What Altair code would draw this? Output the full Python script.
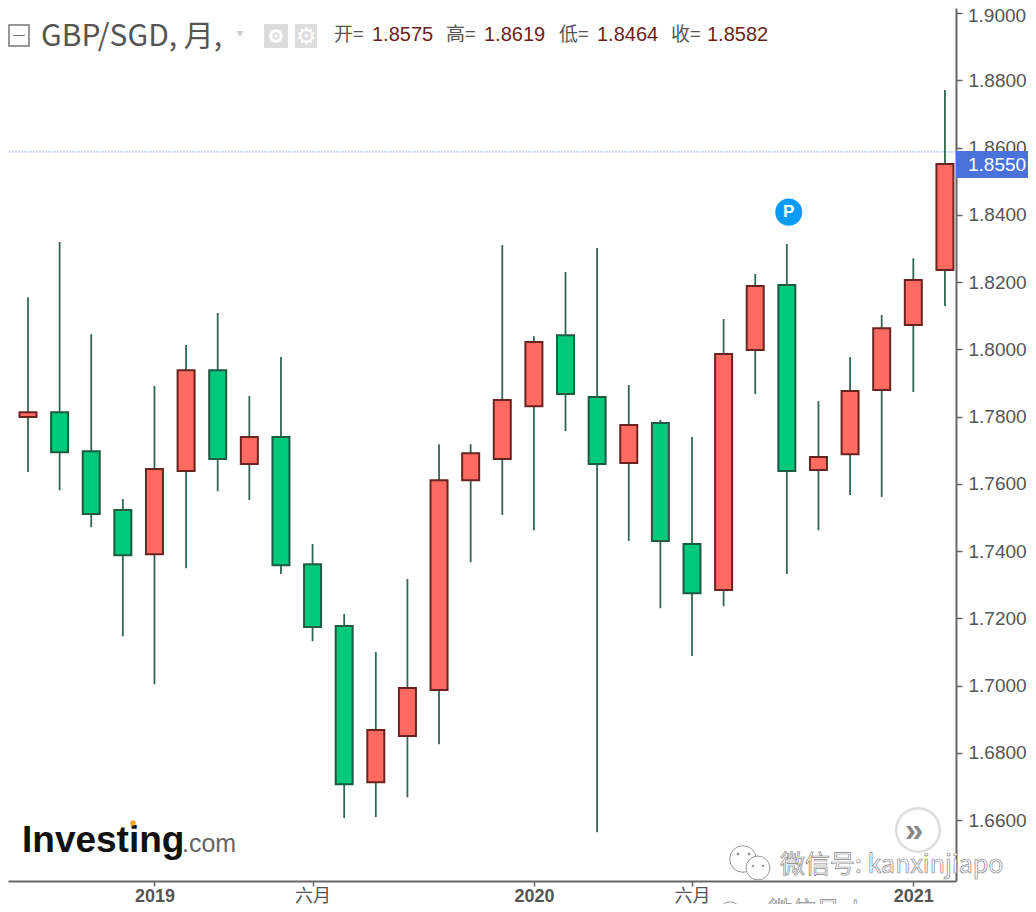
"""GBP/SGD monthly candlestick chart, Investing.com look."""

import pandas as pd
import altair as alt

# months, first one is only half on screen in the reference
months = ['2018-08', '2018-09', '2018-10', '2018-11', '2018-12',
          '2019-01', '2019-02', '2019-03', '2019-04', '2019-05', '2019-06',
          '2019-07', '2019-08', '2019-09', '2019-10', '2019-11', '2019-12',
          '2020-01', '2020-02', '2020-03', '2020-04', '2020-05', '2020-06',
          '2020-07', '2020-08', '2020-09', '2020-10', '2020-11', '2020-12',
          '2021-01', '2021-02']
opens = [1.7876, 1.7799, 1.7813, 1.7697, 1.7522, 1.7391, 1.7638, 1.7938, 1.7659, 1.7739, 1.7361,
         1.7177, 1.6713, 1.6850, 1.6987, 1.7611, 1.7674, 1.7831, 1.8042, 1.7858, 1.7662,
         1.7781, 1.7421, 1.7284, 1.7998, 1.8191, 1.7641, 1.7688, 1.7879, 1.8072, 1.8236]
closes = [1.7790, 1.7813, 1.7694, 1.7510, 1.7388, 1.7644, 1.7938, 1.7674, 1.7739, 1.7358, 1.7174,
          1.6707, 1.6868, 1.6993, 1.7611, 1.7691, 1.7849, 1.8022, 1.7867, 1.7659, 1.7775,
          1.7430, 1.7275, 1.7986, 1.8188, 1.7638, 1.7680, 1.7876, 1.8063, 1.8206, 1.8551]
highs = [1.7876, 1.8155, 1.8319, 1.8045, 1.7555, 1.7891, 1.8013, 1.8108, 1.7861, 1.7977, 1.7421,
         1.7213, 1.7100, 1.7317, 1.7718, 1.7718, 1.8310, 1.8039, 1.8230, 1.8301, 1.7894,
         1.7790, 1.7739, 1.8090, 1.8224, 1.8313, 1.7846, 1.7977, 1.8102, 1.8271, 1.8771]
lows = [1.7790, 1.7635, 1.7581, 1.7471, 1.7147, 1.7004, 1.7349, 1.7578, 1.7552, 1.7332, 1.7132,
        1.6606, 1.6609, 1.6668, 1.6826, 1.7367, 1.7507, 1.7462, 1.7757, 1.6564, 1.7430,
        1.7230, 1.7088, 1.7236, 1.7867, 1.7332, 1.7462, 1.7567, 1.7561, 1.7873, 1.8129]

y_ticks = [1.66, 1.68, 1.70, 1.72, 1.74, 1.76, 1.78, 1.80, 1.82, 1.84, 1.86, 1.88, 1.90]
x_ticks = {5: '2019', 10: '六月', 17: '2020', 22: '六月', 29: '2021'}
last_price = 1.8587
tag_price = '1.8550'
pivot_month = 25.06
pivot_level = 1.8408

TEXT_GRAY = '#555555'
AXIS_GRAY = '#666666'
PRICE_RED = '#6b1f1c'
CJK = 'Noto Sans CJK SC'
SANS = 'Liberation Sans'

df = pd.DataFrame({'month': months, 'open': opens, 'close': closes, 'high': highs, 'low': lows})
df['idx'] = range(len(df))
df['up'] = df['close'] >= df['open']

x_scale = alt.Scale(domain=[0.3675, 30.35], nice=False, zero=False, padding=0)
y_scale = alt.Scale(domain=[1.6419, 1.9015], nice=False, zero=False, padding=0)

tick_expr = ' : '.join(f"datum.value == {k} ? '{v}'" for k, v in x_ticks.items()) + " : ''"
year_test = 'datum.value == 5 || datum.value == 17 || datum.value == 29'


def text(label, x, y, **style):
    """One piece of text placed in plot pixels."""
    return alt.Chart(pd.DataFrame({'t': [label]})).mark_text(align='left', baseline='alphabetic', **style).encode(
        x=alt.value(x), y=alt.value(y), text='t:N'
    )


def box(x, x2, y, y2, **style):
    return alt.Chart(pd.DataFrame({'a': [0]})).mark_rect(**style).encode(
        x=alt.value(x), x2=alt.value(x2), y=alt.value(y), y2=alt.value(y2)
    )


def dot(x, y, size, shape='circle', **style):
    return alt.Chart(pd.DataFrame({'a': [0]})).mark_point(shape=shape, size=size, opacity=1, **style).encode(
        x=alt.value(x), y=alt.value(y)
    )


base = alt.Chart(df).encode(
    x=alt.X('idx:Q', scale=x_scale, axis=alt.Axis(
        title=None, grid=False, values=list(x_ticks), labelExpr=tick_expr,
        labelFont=f'{SANS}, {CJK}', labelFontSize=18, labelColor=TEXT_GRAY, labelPadding=1,
        labelFontWeight={'condition': {'test': year_test, 'value': 'bold'}, 'value': 'normal'},
        domainColor=AXIS_GRAY, domainWidth=2, tickColor=AXIS_GRAY, tickSize=5, tickWidth=1.5,
    ))
)

wicks = base.mark_rule(color='#33664f', strokeWidth=1.8, clip=True).encode(
    y=alt.Y('low:Q', scale=y_scale, axis=alt.Axis(
        title=None, grid=False, orient='right', values=y_ticks, format='.4f',
        labelExpr="datum.value >= 1.9 ? '' : datum.label",
        labelFont=SANS, labelFontSize=19, labelColor=TEXT_GRAY, labelPadding=6,
        domainColor=AXIS_GRAY, domainWidth=2, tickColor=AXIS_GRAY, tickSize=6, tickWidth=1.5,
    )),
    y2='high:Q',
)

bodies = base.mark_bar(size=17, strokeWidth=2, clip=True).encode(
    y=alt.Y('open:Q', scale=y_scale),
    y2='close:Q',
    fill=alt.condition('datum.up', alt.value('#ff6b61'), alt.value('#00c97b')),
    stroke=alt.condition('datum.up', alt.value('#6a2420'), alt.value('#1d5b43')),
)

price_line = alt.Chart(pd.DataFrame({'p': [last_price]})).mark_rule(
    color='#9db4f0', strokeWidth=1, strokeDash=[2, 1]
).encode(y=alt.Y('p:Q', scale=y_scale))

pivot = alt.Chart(pd.DataFrame({'i': [pivot_month], 'v': [pivot_level]})).mark_point(
    shape='circle', size=730, filled=True, color='#0a9bf5', opacity=1
).encode(x=alt.X('i:Q', scale=x_scale), y=alt.Y('v:Q', scale=y_scale))
pivot_text = alt.Chart(pd.DataFrame({'i': [pivot_month], 'v': [pivot_level], 't': ['P']})).mark_text(
    font=SANS, fontSize=17, fontWeight='bold', color='white'
).encode(x=alt.X('i:Q', scale=x_scale), y=alt.Y('v:Q', scale=y_scale), text='t:N')

# header row
header = [
    box(1, 21, 17, 38, fill='white', stroke='#777777', strokeWidth=1.5),
    box(5, 17, 27, 28, fill='#777777'),
    text('GBP/SGD, 月,', 33, 38, font=CJK, fontSize=30, color=TEXT_GRAY),
    dot(232, 26, 50, shape='triangle-down', fill='#cccccc', filled=True),
    box(256, 280, 16, 40, fill='#dddddd'),
    dot(268, 28, 110, stroke='white', strokeWidth=3, filled=False),
    dot(268, 28, 14, fill='white', filled=True),
    box(287, 309, 16, 40, fill='#dddddd'),
    text('⚙', 288, 36, font='DejaVu Sans', fontSize=23, color='white'),
]
for label, x_lab, value, x_val in [('开=', 326, '1.8575', 364), ('高=', 438, '1.8619', 476),
                                   ('低=', 551, '1.8464', 589), ('收=', 663, '1.8582', 699)]:
    header.append(text(label, x_lab, 33, font=CJK, fontSize=19, color=TEXT_GRAY))
    header.append(text(value, x_val, 33, font=SANS, fontSize=20, color=PRICE_RED))

# 1.9000 sits too close to the page edge for the axis to draw it whole
top_label = text('1.9000', 960, 14, font=SANS, fontSize=19, color=TEXT_GRAY)

# price tag on the axis
tag = [
    box(948, 1020, 143, 170, fill='#4a72dd'),
    text(tag_price, 960, 163, font=SANS, fontSize=19, color='white'),
]

# logo and scroll button
logo = [
    text('Investing', 14, 844, font=SANS, fontSize=37, fontWeight='bold', color='#111111'),
    text('.com', 174, 844, font=SANS, fontSize=25, color='#666666'),
    dot(125, 815, 30, fill='#f5a623', filled=True),
    dot(910, 822, 1900, fill='white', stroke='#dddddd', strokeWidth=2.5, filled=True),
    text('»', 897, 833, font=SANS, fontSize=33, fontWeight='bold', color='#888888'),
]

# wechat watermark
watermark = [
    dot(735, 851, 707, fill='white', stroke='#999999', strokeWidth=1, filled=True),
    dot(750, 860, 570, fill='white', stroke='#999999', strokeWidth=1, filled=True),
    dot(730, 846, 8, fill='#999999', filled=True),
    dot(741, 846, 8, fill='#999999', filled=True),
    dot(745, 858, 6, fill='#999999', filled=True),
    dot(755, 858, 6, fill='#999999', filled=True),
    text('微信号: kanxinjiapo', 772, 865, font=CJK, fontSize=25, fill='white', stroke='#888888', strokeWidth=0.7),
    dot(722, 905, 500, fill='white', stroke='#999999', strokeWidth=1, filled=True),
    text('微信号: k', 760, 911, font=CJK, fontSize=24, fill='white', stroke='#888888', strokeWidth=0.7),
]

chart = alt.layer(
    price_line, wicks, bodies, pivot, pivot_text, *header, top_label, *tag, *logo, *watermark
).resolve_scale(
    x='shared', y='shared'
).properties(
    width=948,
    height=873,
    background='white',
    padding={'left': 0, 'top': 0, 'right': 72, 'bottom': 23},
    autosize=alt.AutoSizeParams(type='none'),
).configure_view(stroke=None)

chart.save("out.html", embed_options={"renderer": "svg", "actions": False})
